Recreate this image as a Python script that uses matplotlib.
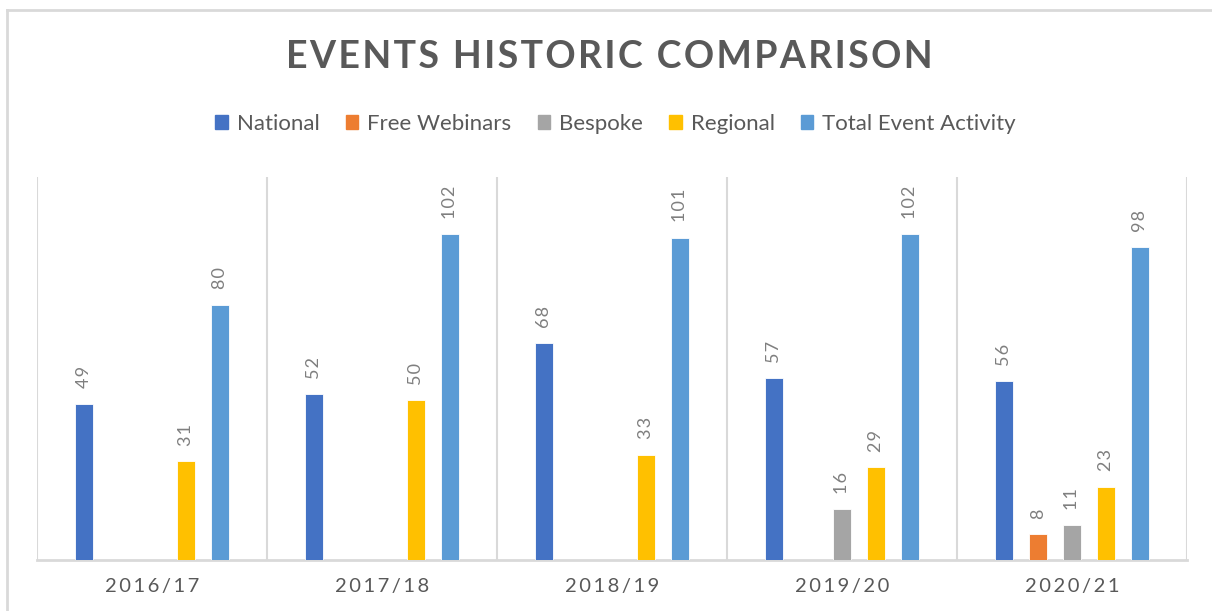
import matplotlib
matplotlib.use("Agg")
import matplotlib.pyplot as plt
from matplotlib.lines import Line2D
import numpy as np

years = ["2016/17", "2017/18", "2018/19", "2019/20", "2020/21"]
series = ["National", "Free Webinars", "Bespoke", "Regional", "Total Event Activity"]
national = [49, 52, 68, 57, 56]
free_webinars = [np.nan, np.nan, np.nan, np.nan, 8]
bespoke = [np.nan, np.nan, np.nan, 16, 11]
regional = [31, 50, 33, 29, 23]
total = [80, 102, 101, 102, 98]
colors = ["#4472C4", "#ED7D31", "#A5A5A5", "#FFC000", "#5B9BD5"]

HS = "\u200a"  # hair space for letter spacing


def spaced(s, sep=HS):
    return sep.join(s)


plt.rcParams["font.family"] = ["Lato", "DejaVu Sans"]

fig = plt.figure(figsize=(12.12, 6.11), dpi=100)
ax = fig.add_axes([37 / 1212, 51 / 611, 1150 / 1212, 383 / 611])

x = np.arange(len(years))
pitch = 0.148
width = 0.078
values = [national, free_webinars, bespoke, regional, total]
for i, (name, vals, col) in enumerate(zip(series, values, colors)):
    pos = x + (i - 2) * pitch
    ax.bar(pos, vals, width, color=col, edgecolor="white", linewidth=0.6,
           label=name, zorder=3)
    for px, v in zip(pos, vals):
        if np.isnan(v):
            continue
        ax.annotate(spaced(str(int(v))), (px, v), xytext=(0, 11),
                    textcoords="offset points", rotation=90, ha="center",
                    va="bottom", fontsize=13, color="#7F7F7F")

ax.set_xlim(-0.5, 4.5)
ax.set_ylim(0, 120)
ax.vlines(np.arange(-0.5, 5, 1), 0, 120, color="#D9D9D9", lw=1.5, zorder=1)
for s in ["top", "right", "left"]:
    ax.spines[s].set_visible(False)
ax.spines["bottom"].set_color("#D9D9D9")
ax.spines["bottom"].set_linewidth(2)
ax.set_yticks([])
ax.set_xticks(x)
ax.set_xticklabels([spaced(y, HS * 2) for y in years], fontsize=14.5,
                   color="#595959")
ax.tick_params(axis="x", length=0, pad=13)

fig.text(0.503, 1 - 57 / 611, spaced("EVENTS HISTORIC COMPARISON", HS),
         ha="center", va="center", fontsize=27, fontweight="bold",
         color="#595959")

handles = [plt.Rectangle((0, 0), 1, 1, color=c) for c in colors]
fig.legend(handles, series, loc="center", bbox_to_anchor=(0.508, 1 - 124 / 611),
           ncol=5, frameon=False, fontsize=16, handlelength=0.55,
           handleheight=0.55, handletextpad=0.4, columnspacing=1.2,
           labelcolor="#595959")

# chart border (left and top edges visible)
fig.add_artist(Line2D([7 / 1212, 7 / 1212], [0, 1 - 10 / 611],
                      color="#D9D9D9", lw=2, transform=fig.transFigure))
fig.add_artist(Line2D([7 / 1212, 1], [1 - 10 / 611, 1 - 10 / 611],
                      color="#D9D9D9", lw=2, transform=fig.transFigure))

fig.savefig("out.png", dpi=100, facecolor="white")
